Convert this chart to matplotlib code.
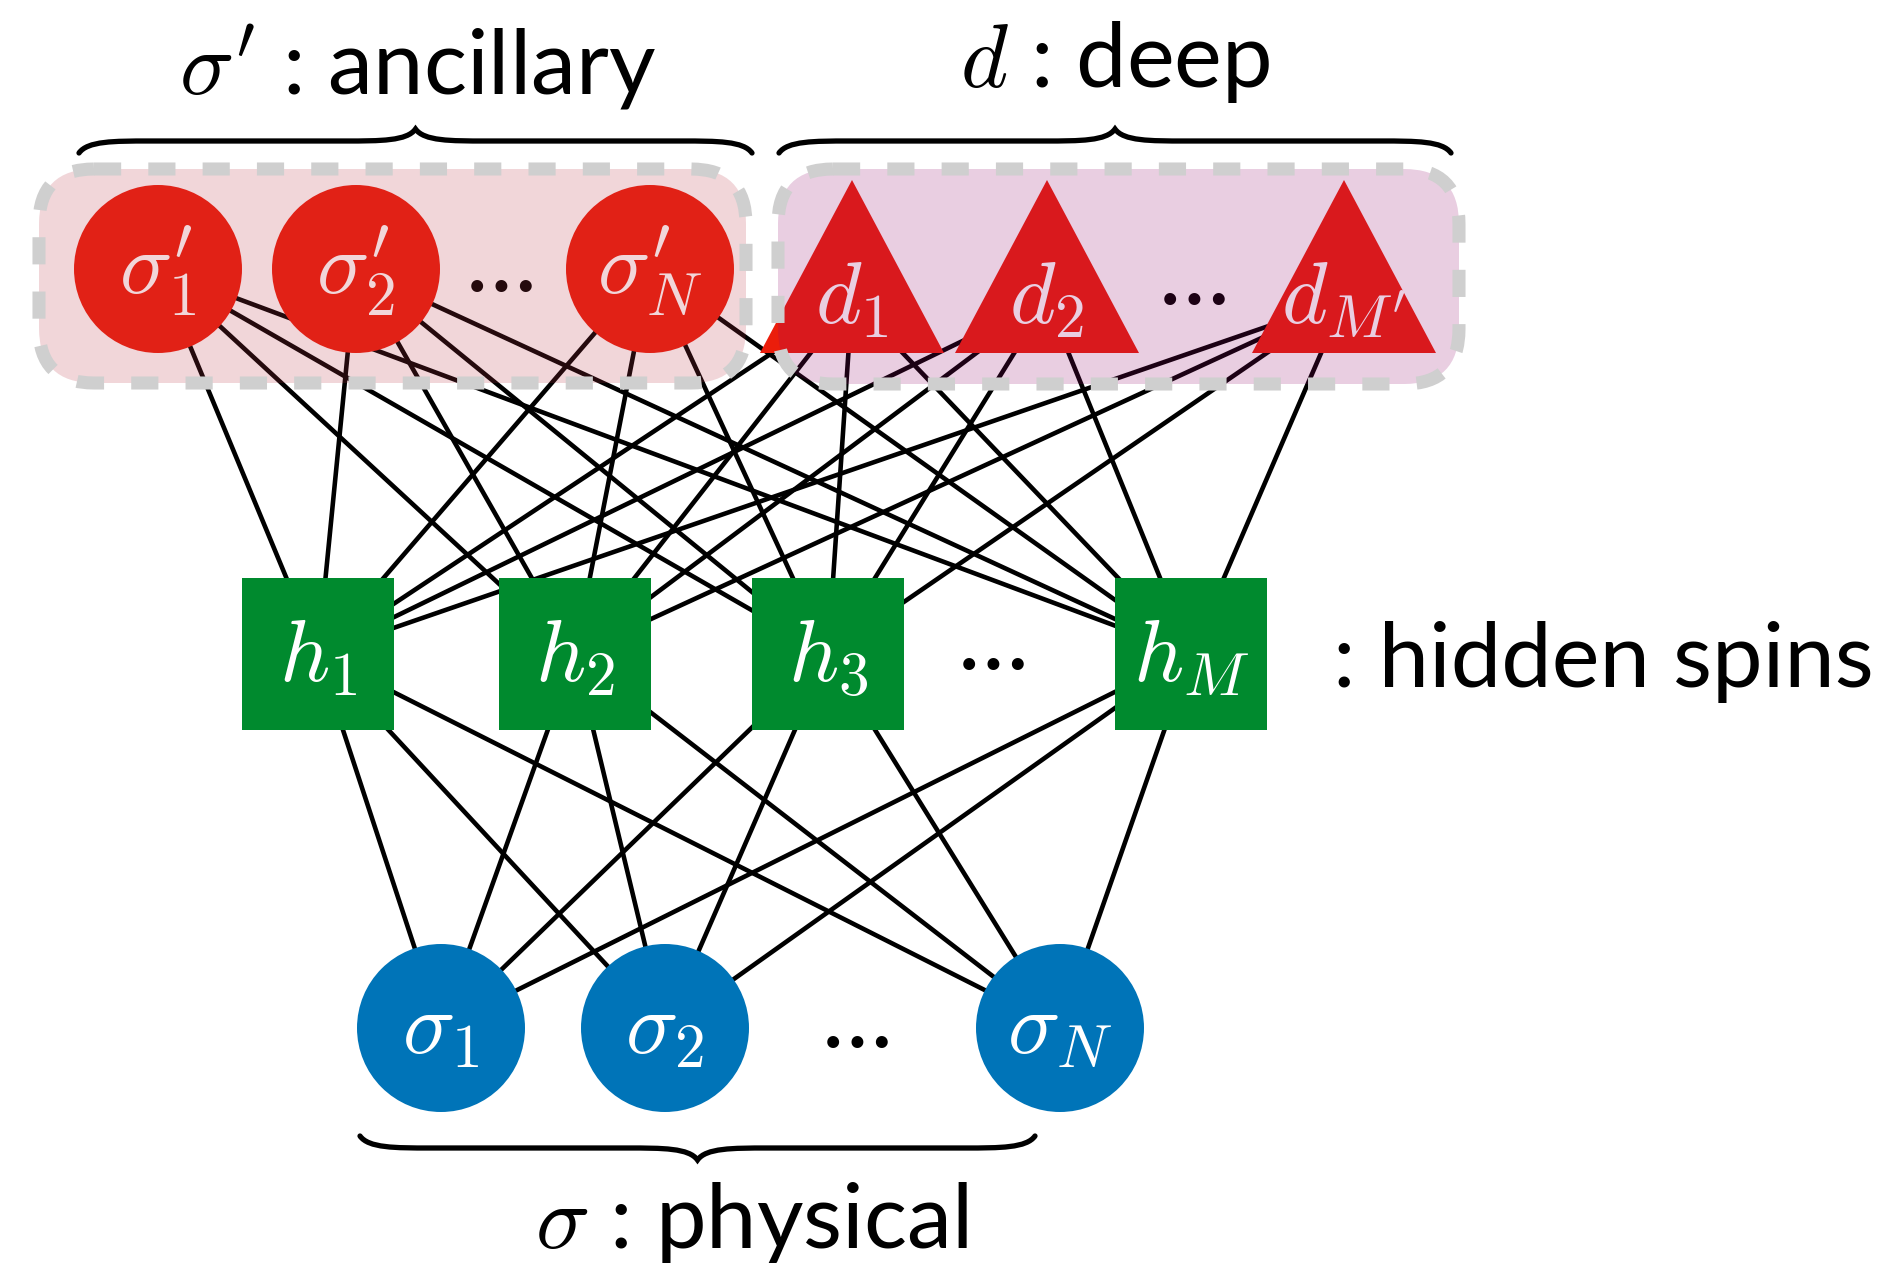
import matplotlib
matplotlib.use("Agg")
import matplotlib.pyplot as plt
from matplotlib.patches import Circle, Rectangle, Polygon, FancyBboxPatch, PathPatch
from matplotlib.path import Path

plt.rcParams.update({
    "mathtext.fontset": "cm",
    "font.family": ["Lato", "DejaVu Sans"],
})

W, H = 1900, 1263

# node layout, pixel units of the picture (y grows downward)
ANC_X = [158, 356, 650]
ANC_Y = 269
ANC_LABELS = [r"$\sigma^{\prime}_{1}$", r"$\sigma^{\prime}_{2}$", r"$\sigma^{\prime}_{N}$"]

DEEP_X = [852, 1047, 1344]
DEEP_Y = 300
DEEP_LABELS = [r"$d_1$", r"$d_2$", r"$d_{M'}$"]

HID_X = [318, 575, 828, 1191]
HID_Y = 654
HID_LABELS = [r"$h_1$", r"$h_2$", r"$h_3$", r"$h_M$"]

PHY_X = [441, 665, 1060]
PHY_Y = 1028
PHY_LABELS = [r"$\sigma_1$", r"$\sigma_2$", r"$\sigma_N$"]

# "..." between the last two nodes of each layer
DOTS_X = [501, 1194, 993, 857]
DOTS_Y = [265, 278, 643, 1021]

# group boxes (x0, y0, x1, y1)
ANC_BOX = (39, 169, 746, 383)
DEEP_BOX = (778, 169, 1459, 384)

# braces (x0, x1, y, tip up?)
BRACES = [(79, 752, 141, True), (779, 1451, 141, True), (360, 1035, 1148, False)]

# group captions (x, y baseline, text, ha)
CAPTIONS = [
    (418, 95, r"$\sigma'$ : ancillary", "center"),
    (1115, 87, r"$d$ : deep", "center"),
    (752, 1248, r"$\sigma$ : physical", "center"),
    (1333, 687, ": hidden spins", "left"),
]

RED = "#eb1d0b"
GREEN = "#008a2e"
BLUE = "#0074b8"
R_NODE = 84
SQ = 152
TRI_W, TRI_TOP, TRI_BOT = 92, 180, 353
LABEL_FS = 63
CAPTION_FS = 65
BOX_LW = 9.4  # points, ~13 px


def brace(ax, x0, x1, yb, up, end=12, tip=12, q=70):
    s = -1 if up else 1
    xc = (x0 + x1) / 2
    ye = yb - s * end
    yt = yb + s * tip
    verts = [
        (x0, ye), (x0 + 0.12 * q, yb), (x0 + 0.5 * q, yb), (x0 + q, yb),
        (xc - q, yb),
        (xc - 0.5 * q, yb), (xc - 0.12 * q, yb), (xc, yt),
        (xc + 0.12 * q, yb), (xc + 0.5 * q, yb), (xc + q, yb),
        (x1 - q, yb),
        (x1 - 0.5 * q, yb), (x1 - 0.12 * q, yb), (x1, ye),
    ]
    codes = [Path.MOVETO] + [Path.CURVE4] * 3 + [Path.LINETO] + [Path.CURVE4] * 6 \
        + [Path.LINETO] + [Path.CURVE4] * 3
    ax.add_patch(PathPatch(Path(verts, codes), fill=False, lw=3.8,
                           edgecolor="black", capstyle="round", zorder=6))


def main():
    fig = plt.figure(figsize=(W / 100, H / 100), dpi=100)
    ax = fig.add_axes([0, 0, 1, 1])
    ax.set_xlim(0, W)
    ax.set_ylim(H, 0)
    ax.axis("off")

    top = [(x, ANC_Y) for x in ANC_X] + [(x, DEEP_Y) for x in DEEP_X]
    mid = [(x, HID_Y) for x in HID_X]
    bot = [(x, PHY_Y) for x in PHY_X]

    # every visible spin couples to every hidden spin
    for a in top + bot:
        for b in mid:
            ax.plot([a[0], b[0]], [a[1], b[1]], color="black", lw=3.3,
                    solid_capstyle="butt", zorder=1)

    for x, lab in zip(ANC_X, ANC_LABELS):
        ax.add_patch(Circle((x, ANC_Y), R_NODE, color=RED, lw=0, zorder=2))
        ax.text(x, ANC_Y + 2, lab, color="white", fontsize=LABEL_FS,
                ha="center", va="center", zorder=3)
    for x, lab in zip(DEEP_X, DEEP_LABELS):
        ax.add_patch(Polygon([(x - TRI_W, TRI_BOT), (x, TRI_TOP), (x + TRI_W, TRI_BOT)],
                             closed=True, color=RED, lw=0, zorder=2))
        ax.text(x, DEEP_Y, lab, color="white", fontsize=LABEL_FS,
                ha="center", va="center", zorder=3)
    for x, lab in zip(HID_X, HID_LABELS):
        ax.add_patch(Rectangle((x - SQ / 2, HID_Y - SQ / 2), SQ, SQ,
                               color=GREEN, lw=0, zorder=2))
        ax.text(x, HID_Y + 4, lab, color="white", fontsize=LABEL_FS,
                ha="center", va="center", zorder=3)
    for x, lab in zip(PHY_X, PHY_LABELS):
        ax.add_patch(Circle((x, PHY_Y), R_NODE, color=BLUE, lw=0, zorder=2))
        ax.text(x, PHY_Y + 2, lab, color="white", fontsize=LABEL_FS,
                ha="center", va="center", zorder=3)

    for x, y in zip(DOTS_X, DOTS_Y):
        ax.text(x, y, "\u2026", fontsize=68, ha="center", va="center",
                color="black", zorder=3)

    # translucent group boxes laid over the nodes, grey dashed rim on top
    for (x0, y0, x1, y1), fc in [(ANC_BOX, (0.73, 0.20, 0.27)),
                                 (DEEP_BOX, (0.57, 0.04, 0.41))]:
        ax.add_patch(FancyBboxPatch((x0, y0), x1 - x0, y1 - y0,
                                    boxstyle="round,pad=0,rounding_size=55",
                                    facecolor=fc + (0.2,), edgecolor="none", zorder=4))
        ax.add_patch(FancyBboxPatch((x0, y0), x1 - x0, y1 - y0,
                                    boxstyle="round,pad=0,rounding_size=55",
                                    facecolor="none", edgecolor="#cfcfcf",
                                    lw=BOX_LW, linestyle=(0, (2.08, 2.08)),
                                    capstyle="butt", zorder=5))

    for x0, x1, y, up in BRACES:
        brace(ax, x0, x1, y, up)

    for x, y, txt, ha in CAPTIONS:
        ax.text(x, y, txt, fontsize=CAPTION_FS, ha=ha, va="baseline",
                color="black", zorder=6)

    fig.savefig("out.png", dpi=100)
    plt.close(fig)


if __name__ == "__main__":
    main()
